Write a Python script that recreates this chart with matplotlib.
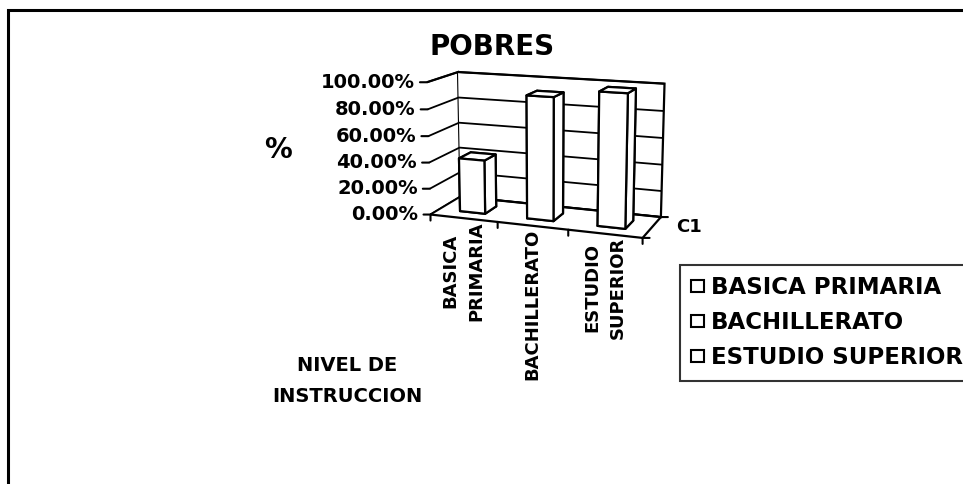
import numpy as np
import matplotlib
matplotlib.use("Agg")
import matplotlib.pyplot as plt
from matplotlib.patches import Patch, Rectangle
from mpl_toolkits.mplot3d import proj3d

# ---------------- data ----------------
categories = ["BASICA\nPRIMARIA", "BACHILLERATO", "ESTUDIO\nSUPERIOR"]
legend_labels = ["BASICA PRIMARIA", "BACHILLERATO", "ESTUDIO SUPERIOR"]
values = [0.41, 0.92, 0.98]
z_ticks = [0.0, 0.2, 0.4, 0.6, 0.8, 1.0]
z_tick_labels = ["0.00%", "20.00%", "40.00%", "60.00%", "80.00%", "100.00%"]
series_label = "C1"
title_text = "POBRES"
z_label = "%"
x_label = "NIVEL DE\nINSTRUCCION"

# ---------------- figure ----------------
W, H, DPI = 963, 484, 100
plt.rcParams["font.family"] = ["DejaVu Sans"]
plt.rcParams["font.weight"] = "bold"

fig = plt.figure(figsize=(W / DPI, H / DPI), dpi=DPI, facecolor="white")


def fxy(x, y):
    return (x / W, 1 - y / H)


ax = fig.add_axes([0.4, 0.3, 0.3, 0.5], projection="3d")
ax.set_xlim(0, len(categories))
ax.set_ylim(0, 1)
ax.set_zlim(0, 1)
ax.patch.set_visible(False)

# camera fit: where the corners of the 3-D box sit in the reference (layout)
nx = len(categories)
box_corners = np.array([[0, 0, 0], [0, 0, 1], [0, 1, 0], [0, 1, 1],
                        [nx, 1, 1], [nx, 1, 0], [nx, 0, 0]], float)
box_pixels = np.array([[430, 214], [428, 82], [458, 197], [460, 73],
                       [664, 83], [662, 215], [642, 240]], float)
T = np.column_stack([box_pixels[:, 0], H - box_pixels[:, 1]])


def set_cam(p):
    elev, azim, bx, bz, invf = p
    ax.view_init(elev=elev, azim=azim)
    ax.set_box_aspect((bx, 1.0, bz))
    if invf <= 1e-6:
        ax.set_proj_type("ortho")
    else:
        ax.set_proj_type("persp", focal_length=1.0 / invf)


def proj_pts(pts):
    M = ax.get_proj()
    xs, ys, _ = proj3d.proj_transform(pts[:, 0], pts[:, 1], pts[:, 2], M)
    return np.column_stack([xs, ys])


def sim_fit(D, Tt):
    n = len(D)
    A = np.zeros((2 * n, 3))
    b = np.zeros(2 * n)
    A[0::2, 0] = D[:, 0]; A[0::2, 1] = 1; b[0::2] = Tt[:, 0]
    A[1::2, 0] = D[:, 1]; A[1::2, 2] = 1; b[1::2] = Tt[:, 1]
    sol, *_ = np.linalg.lstsq(A, b, rcond=None)
    r = A @ sol - b
    return sol, float(r @ r)


set_cam([15, -68, 3.4, 2.0, 1.0])
fig.canvas.draw()


def cost(p):
    set_cam(p)
    D = ax.transData.transform(proj_pts(box_corners))
    return sim_fit(D, T)[1]


params = np.array([15.0, -68.0, 3.4, 2.0, 1.0])
steps = np.array([2.0, 3.0, 0.4, 0.3, 0.4])
lo = np.array([2.0, -89.0, 0.5, 0.5, 0.0])
hi = np.array([40.0, -40.0, 8.0, 5.0, 3.0])
best = cost(params)
for _ in range(7):
    for _inner in range(40):
        improved = False
        for i in range(5):
            for sgn in (1, -1):
                trial = params.copy()
                trial[i] = np.clip(trial[i] + sgn * steps[i], lo[i], hi[i])
                c = cost(trial)
                if c < best - 1e-9:
                    best, params, improved = c, trial, True
        if not improved:
            break
    steps /= 2

set_cam(params)
fig.canvas.draw()
D = ax.transData.transform(proj_pts(box_corners))
bb = ax.bbox
Afrac = np.column_stack([(D[:, 0] - bb.x0) / bb.width, (D[:, 1] - bb.y0) / bb.height])
sol, _ = sim_fit(Afrac, T)
w, ox, oy = sol
ax.set_position([ox / W, oy / H, w / W, w / H])

# ---------------- 3-D styling ----------------
for axis in (ax.xaxis, ax.yaxis, ax.zaxis):
    axis.set_pane_color((1, 1, 1, 1))
    axis.pane.set_edgecolor("black")
    axis.pane.set_linewidth(1.6)
    axis.line.set_color((0, 0, 0, 0))
    axis._axinfo["tick"]["inward_factor"] = 0
    axis._axinfo["tick"]["outward_factor"] = 0
ax.set_xticks([])
ax.set_yticks([])
ax.set_zticks(z_ticks)
ax.set_zticklabels([])
ax.grid(True)
ax.zaxis._axinfo["grid"].update(color="black", linewidth=1.3, linestyle="-")

# bars
centers = np.arange(nx) + 0.5
bar_w, bar_d, bar_y = 0.38, 0.40, 0.30
ax.bar3d(centers - bar_w / 2, np.full(nx, bar_y), np.zeros(nx),
         bar_w, bar_d, values, color="white", edgecolor="black",
         shade=False, linewidth=1.6)


def p2(x, y, z):
    return tuple(proj_pts(np.array([[x, y, z]], float))[0])


def tick(pt, dx, dy):
    ax.annotate("", xy=pt, xycoords="data", xytext=(dx, dy), textcoords="offset pixels",
                arrowprops=dict(arrowstyle="-", color="black", lw=1.5, shrinkA=0, shrinkB=0),
                annotation_clip=False)


# value axis labels + ticks
for z, lab in zip(z_ticks, z_tick_labels):
    pt = p2(0, 0, z)
    tick(pt, -7, 0)
    ax.annotate(lab, xy=pt, xycoords="data", xytext=(-12, 0), textcoords="offset pixels",
                ha="right", va="center", fontsize=14, fontweight="bold", annotation_clip=False)

# category ticks + labels
for i in range(nx + 1):
    tick(p2(i, 0, 0), 0, -6)
for c, lab in zip(centers, categories):
    ax.annotate(lab, xy=p2(c, 0, 0), xycoords="data", xytext=(0, -3), textcoords="offset pixels",
                ha="center", va="top", rotation=90, fontsize=13, fontweight="bold",
                linespacing=1.55, multialignment="center", annotation_clip=False)

# series (depth) axis
tick(p2(nx, 0, 0), 7, 0)
tick(p2(nx, 1, 0), 7, 0)
ax.annotate(series_label, xy=p2(nx, 0.5, 0), xycoords="data", xytext=(24, 0),
            textcoords="offset pixels", ha="left", va="center", fontsize=13,
            fontweight="bold", annotation_clip=False)

# ---------------- 2-D texts ----------------
fig.text(*fxy(492, 47), title_text, ha="center", va="center", fontsize=20, fontweight="bold")
fig.text(*fxy(278, 150), z_label, ha="center", va="center", fontsize=20, fontweight="bold")
fig.text(*fxy(347, 381), x_label, ha="center", va="center", fontsize=14, fontweight="bold",
         linespacing=1.75, multialignment="center")

handles = [Patch(facecolor="white", edgecolor="black", linewidth=1.5) for _ in legend_labels]
leg = fig.legend(handles, legend_labels, loc="upper left", bbox_to_anchor=fxy(680, 265),
                 frameon=True, fancybox=False, edgecolor="black", fontsize=16.5,
                 handlelength=0.55, handleheight=0.45, handletextpad=0.3,
                 labelspacing=0.52, borderpad=0.5, borderaxespad=0)
leg.get_frame().set_linewidth(1.5)
for t in leg.get_texts():
    t.set_fontweight("bold")

# outer chart-area border (extends beyond the right and bottom edges)
fig.patches.append(Rectangle((8 / W, -0.2), 1.5, 1.2 - 10 / H, transform=fig.transFigure,
                             fill=False, edgecolor="black", linewidth=2.2))

fig.savefig("out.png", dpi=DPI, facecolor="white")
